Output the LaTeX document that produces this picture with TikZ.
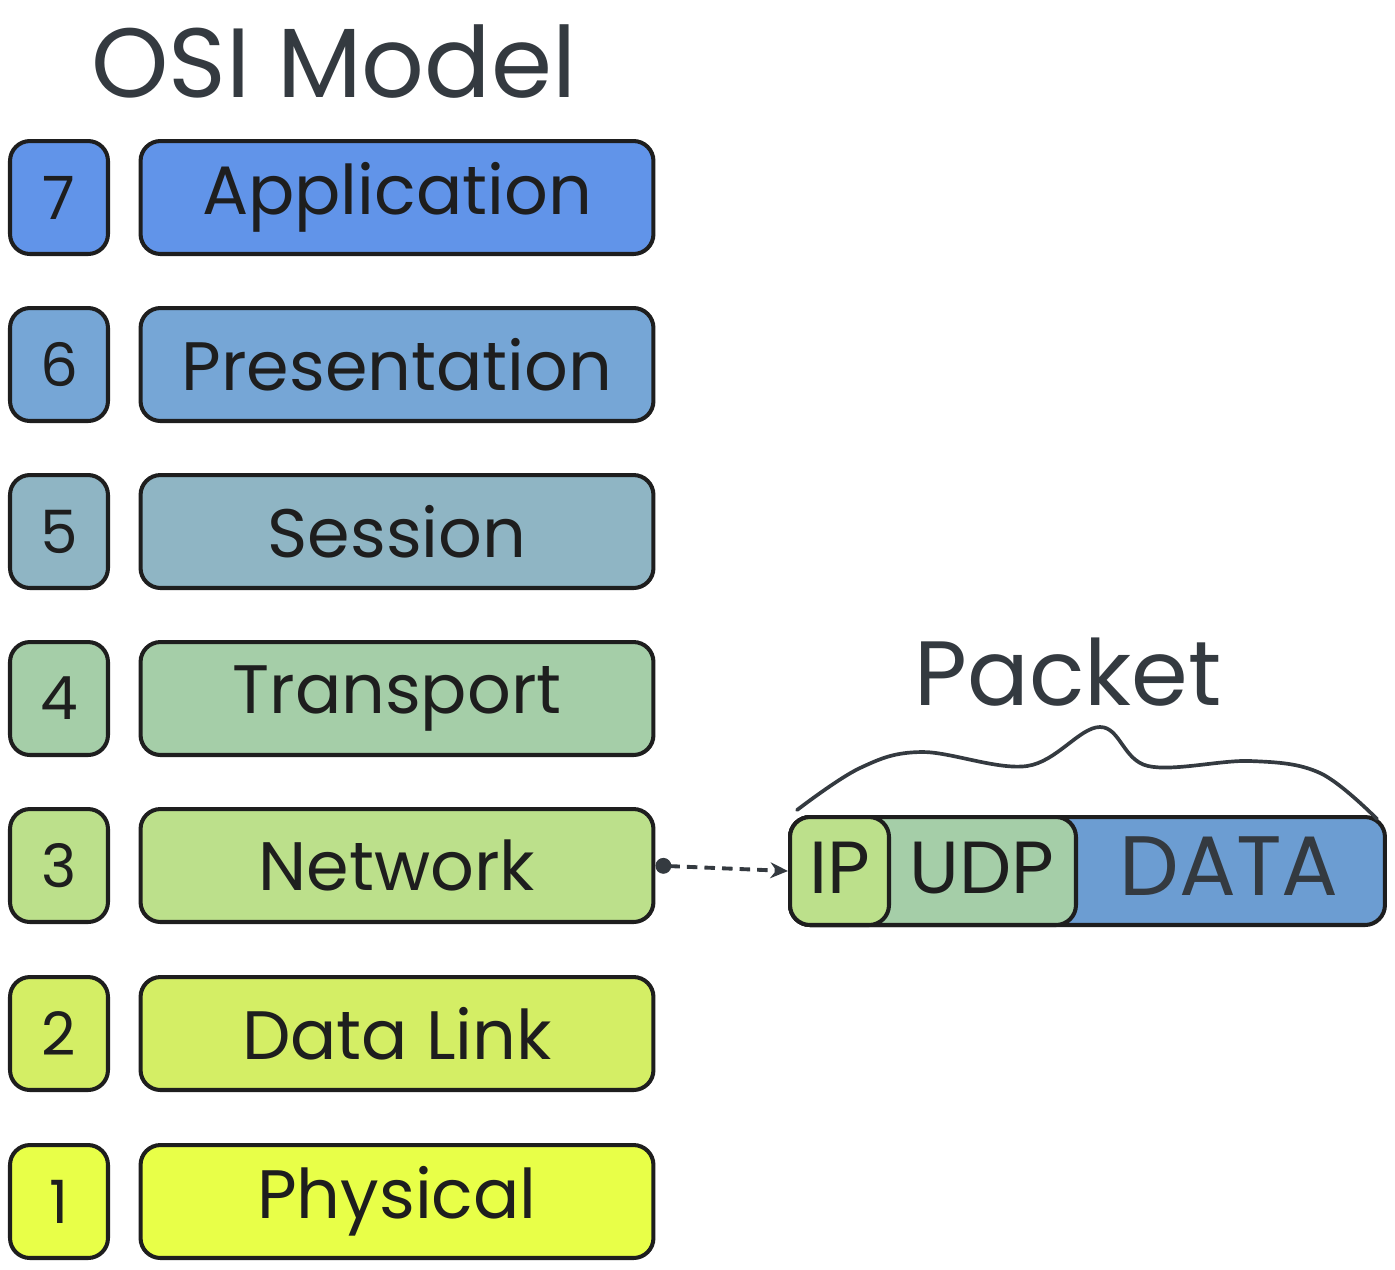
\documentclass[tikz,border=0pt]{standalone}
\usepackage{fontspec}
\setmainfont{Poppins}
\usetikzlibrary{arrows.meta}
\definecolor{inkdark}{HTML}{1E1E1E}
\definecolor{inkgray}{HTML}{343A40}
\definecolor{appblue}{RGB}{97,148,233}
\definecolor{presblue}{RGB}{118,166,214}
\definecolor{sessteal}{RGB}{143,181,196}
\definecolor{transgreen}{RGB}{165,206,168}
\definecolor{netgreen}{RGB}{188,224,139}
\definecolor{linklime}{RGB}{212,238,101}
\definecolor{physyellow}{RGB}{232,255,72}
\definecolor{datablue}{RGB}{108,157,210}

\begin{document}
\begin{tikzpicture}[x=0.02cm,y=-0.02cm,
  layer/.style={draw=inkdark,line width=2.3pt,rounded corners=4mm,text=inkdark,
    minimum height=22.6mm,inner sep=0pt,font=\fontsize{39}{44}\selectfont},
  numbox/.style={layer,minimum width=19.6mm,font=\fontsize{34}{40}\selectfont},
  namebox/.style={layer,minimum width=102.6mm},
  pktbox/.style={layer,minimum height=21.6mm},
  pkttext/.style={text=inkdark,font=\fontsize{42}{46}\selectfont},
  heading/.style={text=inkgray,anchor=base,font=\fontsize{56}{62}\selectfont}]
  \useasboundingbox (0,0) rectangle (1395,1269);
  \node[heading] (osi) at (334,97) {OSI Model};
  \node[numbox,fill=appblue] (n7) at (59,197.5) {7};
  \node[namebox,fill=appblue] (l7) at (397,197.5) {Application};
  \node[numbox,fill=presblue] (n6) at (59,364.5) {6};
  \node[namebox,fill=presblue] (l6) at (397,364.5) {Presentation};
  \node[numbox,fill=sessteal] (n5) at (59,531.5) {5};
  \node[namebox,fill=sessteal] (l5) at (397,531.5) {Session};
  \node[numbox,fill=transgreen] (n4) at (59,698.5) {4};
  \node[namebox,fill=transgreen] (l4) at (397,698.5) {Transport};
  \node[numbox,fill=netgreen] (n3) at (59,865.5) {3};
  \node[namebox,fill=netgreen] (l3) at (397,865.5) {Network};
  \node[numbox,fill=linklime] (n2) at (59,1033.5) {2};
  \node[namebox,fill=linklime] (l2) at (397,1033.5) {Data Link};
  \node[numbox,fill=physyellow] (n1) at (59,1201.5) {1};
  \node[namebox,fill=physyellow] (l1) at (397,1201.5) {Physical};
  \node[heading,font=\fontsize{52}{58}\selectfont] (pkt) at (1068,705) {Packet};
  \node[pktbox,fill=datablue,minimum width=119mm] (data) at (1087.5,871) {};
  \node[pktbox,fill=transgreen,minimum width=57.2mm] (udp) at (933,871) {};
  \node[pktbox,fill=netgreen,minimum width=19.8mm] (ip) at (839.5,871) {};
  \node[pkttext] (iptxt) at (839.5,868) {IP};
  \node[pkttext] (udptxt) at (982,868) {UDP};
  \node[pkttext,text=inkgray,font=\fontsize{48}{52}\selectfont] (datatxt) at (1229,866) {DATA};
  \draw[inkgray,line width=2.2pt,dash pattern=on 6pt off 4pt,
    {Circle[length=9pt]}-{Stealth[length=10pt,width=9pt]}] (l3.east) -- (ip.west);
  \draw[inkgray,line width=2.1pt,line cap=round] plot[smooth,tension=0.6] coordinates
    {(797,810) (860,768) (922,752) (1027,766) (1100,727) (1148,766) (1250,761) (1320,773) (1377,819)};
\end{tikzpicture}
\end{document}
